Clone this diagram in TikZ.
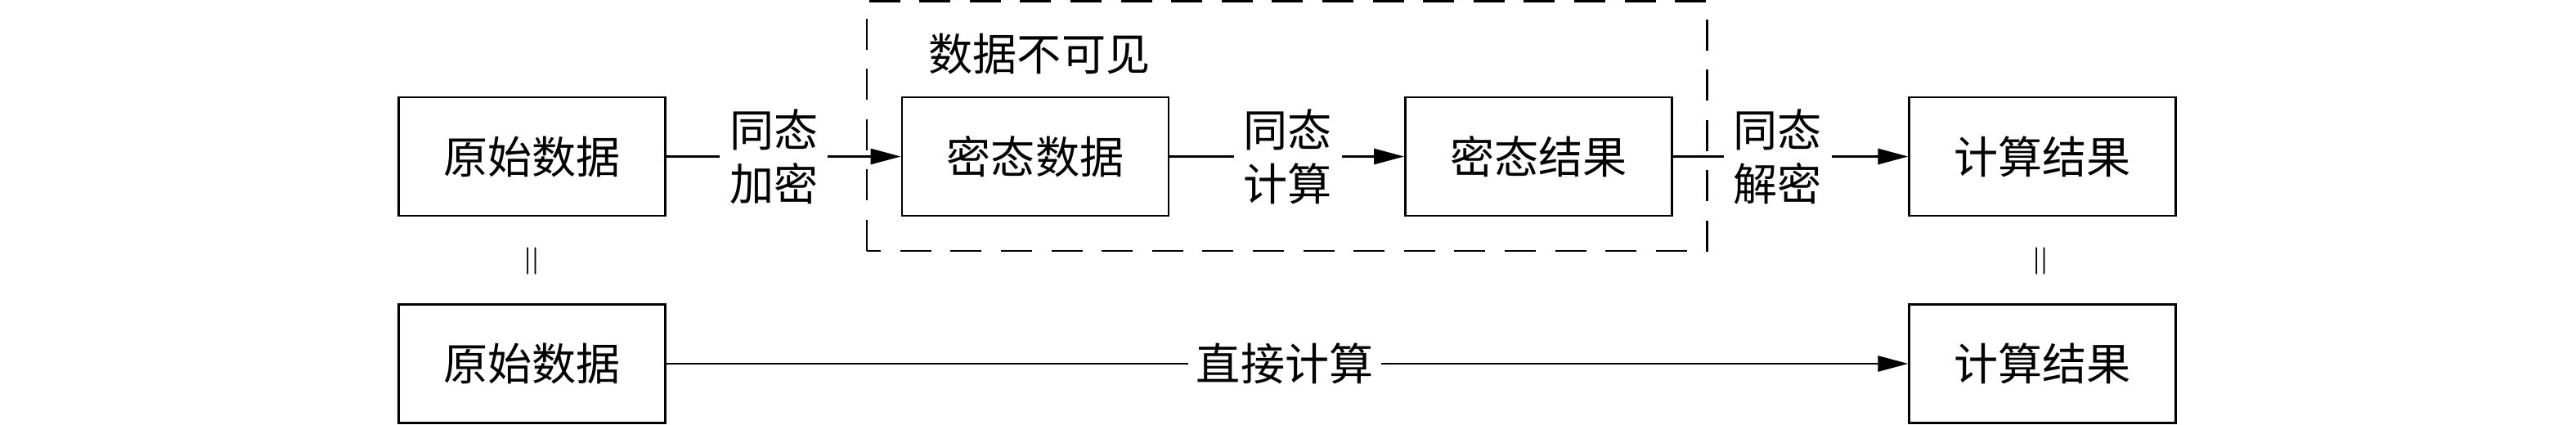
\documentclass[tikz,border=0pt]{standalone}
\usepackage{fontspec}
\newfontfamily\cjk{Noto Sans CJK SC}
\usetikzlibrary{arrows.meta}
\begin{document}
\begin{tikzpicture}[
  box/.style={draw, line width=0.8pt, minimum width=3.26cm, minimum height=1.45cm, inner sep=0pt, font=\cjk\fontsize{15.4pt}{18.8pt}\selectfont},
  lbl/.style={fill=white, align=center, inner xsep=0.12cm, inner ysep=0pt, font=\cjk\fontsize{15.4pt}{18.8pt}\selectfont},
  conn/.style={line width=0.8pt, -{Triangle[length=0.37cm,width=0.19cm]}},
  zone/.style={draw, line width=0.8pt, dash pattern=on 0.38cm off 0.236cm},
  zonetext/.style={anchor=west, inner sep=0pt, font=\cjk\fontsize{15.4pt}{18.8pt}\selectfont},
  eqmark/.style={rotate=90, inner sep=0pt, font=\fontsize{15pt}{15pt}\selectfont},
]
\useasboundingbox (0,0) rectangle (31.5,5.19);

% dashed zone
\coordinate (zsw) at (10.60,2.12);
\coordinate (zne) at (20.875,5.175);
\draw[zone] (zsw) rectangle (zne);
\node[zonetext] (zlabel) at (11.35,4.53) {数据不可见};

% top row
\node[box] (raw1) at (6.507,3.275) {原始数据};
\node[box] (encd) at (12.66,3.275) {密态数据};
\node[box] (encr) at (18.815,3.275) {密态结果};
\node[box] (res1) at (24.978,3.275) {计算结果};

% bottom row
\node[box] (raw2) at (6.507,0.74) {原始数据};
\node[box] (res2) at (24.978,0.74) {计算结果};

% connectors
\draw[conn] (raw1) -- node[lbl, pos=0.458] (l1) {同态\\加密} (encd);
\draw[conn] (encd) -- node[lbl, pos=0.504] (l2) {同态\\计算} (encr);
\draw[conn] (encr) -- node[lbl, pos=0.445] (l3) {同态\\解密} (res1);
\draw[conn] (raw2) -- node[lbl, pos=0.498, inner xsep=0.1cm] (l4) {直接计算} (res2);

% equality marks
\node[eqmark] (eq1) at (6.54,1.99) {=};
\node[eqmark] (eq2) at (24.99,1.99) {=};
\end{tikzpicture}
\end{document}
